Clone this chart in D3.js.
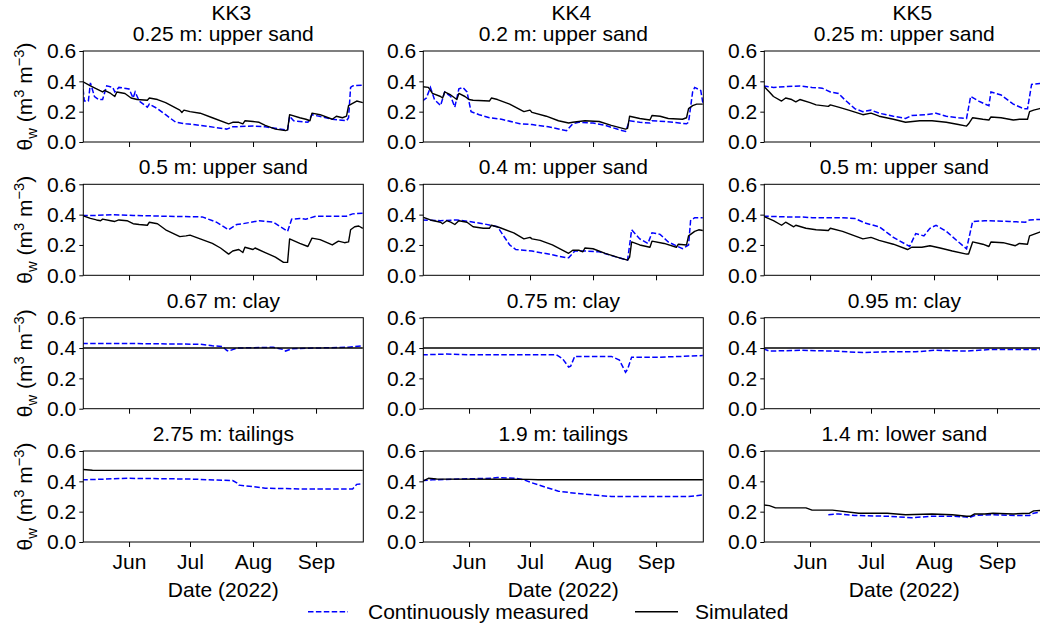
<!DOCTYPE html>
<html>
<head>
<meta charset="utf-8">
<script src="https://cdn.jsdelivr.net/npm/d3@7"></script>
<style>
  html, body { margin: 0; padding: 0; background: #fff; }
  svg { display: block; font-family: "Liberation Sans", Arial, sans-serif; }
</style>
</head>
<body>
<svg id="chart" width="1040" height="627"></svg>
<script>
// ---- labels ----
const sites = ["KK3", "KK4", "KK5"];
const depthLabels = [
  ["0.25 m: upper sand", "0.2 m: upper sand", "0.25 m: upper sand"],
  ["0.5 m: upper sand", "0.4 m: upper sand", "0.5 m: upper sand"],
  ["0.67 m: clay", "0.75 m: clay", "0.95 m: clay"],
  ["2.75 m: tailings", "1.9 m: tailings", "1.4 m: lower sand"]
];
const yTicks = [0.0, 0.2, 0.4, 0.6];
const monthTicks = ["2022-06-01", "2022-07-01", "2022-08-01", "2022-09-01"];
const seriesNames = ["Continuously measured", "Simulated"];
const xLabel = "Date (2022)";
const dateRange = ["2022-05-09T12:00", "2022-09-24T06:00"];

// ---- volumetric water content, [month-day, value] ----
const kk3_025_meas = [["05-09",0.40],["05-10",0.27],["05-12",0.27],["05-13",0.39],["05-15",0.30],["05-17",0.28],["05-19",0.28],["05-21",0.37],["05-24",0.36],["05-25",0.33],["05-27",0.36],["06-01",0.35],["06-03",0.29],["06-04",0.33],["06-06",0.27],["06-10",0.23],["06-11",0.25],["06-15",0.22],["06-19",0.18],["06-24",0.13],["06-29",0.12],["07-06",0.11],["07-19",0.085],["07-22",0.10],["08-01",0.105],["08-07",0.10],["08-17",0.08],["08-18",0.08],["08-19",0.17],["08-21",0.14],["08-28",0.13],["08-30",0.18],["09-09",0.15],["09-16",0.14],["09-17",0.16],["09-18",0.36],["09-19",0.37],["09-24",0.375]];
const kk3_025_sim = [["05-09",0.40],["05-13",0.37],["05-16",0.35],["05-19",0.33],["05-20",0.34],["05-23",0.32],["05-25",0.30],["05-26",0.33],["05-30",0.32],["06-02",0.29],["06-05",0.28],["06-10",0.275],["06-11",0.29],["06-15",0.28],["06-19",0.26],["06-26",0.21],["06-27",0.195],["06-28",0.21],["07-01",0.20],["07-06",0.19],["07-12",0.16],["07-20",0.12],["07-22",0.13],["07-25",0.13],["07-27",0.12],["07-28",0.14],["08-01",0.135],["08-04",0.13],["08-07",0.11],["08-12",0.085],["08-17",0.075],["08-18",0.08],["08-19",0.18],["08-24",0.16],["08-27",0.15],["08-29",0.14],["08-30",0.19],["09-03",0.18],["09-09",0.15],["09-11",0.17],["09-14",0.16],["09-16",0.17],["09-17",0.24],["09-21",0.27],["09-24",0.26]];

const kk4_020_meas = [["05-09",0.27],["05-11",0.29],["05-13",0.36],["05-15",0.28],["05-18",0.24],["05-20",0.33],["05-23",0.30],["05-25",0.23],["05-27",0.35],["05-29",0.36],["05-31",0.33],["06-02",0.20],["06-06",0.18],["06-11",0.16],["06-17",0.15],["06-26",0.12],["07-02",0.115],["07-10",0.10],["07-19",0.075],["07-22",0.12],["07-25",0.13],["08-01",0.125],["08-07",0.11],["08-14",0.08],["08-17",0.07],["08-19",0.14],["08-24",0.13],["08-29",0.125],["08-30",0.14],["09-06",0.135],["09-16",0.12],["09-17",0.13],["09-19",0.33],["09-20",0.36],["09-23",0.34],["09-24",0.26]];
const kk4_020_sim = [["05-09",0.365],["05-12",0.36],["05-14",0.32],["05-18",0.30],["05-19",0.29],["05-20",0.33],["05-23",0.31],["05-24",0.30],["05-26",0.28],["05-27",0.32],["05-30",0.30],["06-01",0.28],["06-03",0.275],["06-11",0.27],["06-12",0.29],["06-15",0.28],["06-21",0.25],["06-28",0.20],["07-01",0.21],["07-02",0.195],["07-09",0.17],["07-15",0.14],["07-20",0.125],["07-22",0.13],["07-28",0.14],["08-04",0.135],["08-10",0.11],["08-17",0.085],["08-18",0.09],["08-19",0.17],["08-24",0.155],["08-29",0.145],["08-30",0.175],["09-03",0.17],["09-07",0.155],["09-14",0.15],["09-16",0.16],["09-17",0.22],["09-19",0.24],["09-21",0.25],["09-24",0.25]];

const kk5_025_meas = [["05-09",0.37],["05-14",0.36],["05-20",0.365],["05-27",0.37],["06-02",0.36],["06-07",0.355],["06-11",0.33],["06-15",0.32],["06-18",0.28],["06-23",0.22],["06-27",0.20],["07-01",0.21],["07-05",0.19],["07-12",0.17],["07-18",0.155],["07-21",0.175],["07-28",0.18],["08-02",0.19],["08-07",0.17],["08-13",0.16],["08-17",0.155],["08-19",0.30],["08-23",0.27],["08-26",0.25],["08-28",0.24],["08-29",0.33],["09-03",0.31],["09-09",0.25],["09-14",0.22],["09-16",0.22],["09-18",0.38],["09-22",0.385],["09-24",0.385]];
const kk5_025_sim = [["05-09",0.37],["05-12",0.33],["05-14",0.30],["05-18",0.27],["05-20",0.29],["05-23",0.28],["05-25",0.265],["05-27",0.28],["06-01",0.26],["06-04",0.245],["06-10",0.235],["06-11",0.245],["06-15",0.23],["06-20",0.21],["06-27",0.18],["07-01",0.19],["07-05",0.17],["07-12",0.15],["07-18",0.13],["07-25",0.14],["07-31",0.14],["08-07",0.13],["08-13",0.115],["08-17",0.105],["08-18",0.12],["08-20",0.16],["08-25",0.15],["08-28",0.145],["08-29",0.165],["09-03",0.16],["09-09",0.145],["09-12",0.15],["09-16",0.15],["09-17",0.20],["09-19",0.21],["09-22",0.22],["09-24",0.225]];

const kk3_050_meas = [["05-09",0.395],["05-16",0.395],["05-24",0.40],["06-03",0.395],["06-17",0.39],["07-07",0.385],["07-14",0.35],["07-20",0.30],["07-24",0.335],["07-27",0.34],["08-04",0.36],["08-11",0.35],["08-18",0.29],["08-20",0.37],["08-24",0.375],["08-27",0.37],["09-01",0.39],["09-16",0.39],["09-19",0.405],["09-24",0.41]];
const kk3_050_sim = [["05-09",0.395],["05-13",0.375],["05-16",0.365],["05-18",0.36],["05-19",0.37],["05-23",0.36],["05-25",0.355],["05-27",0.365],["05-31",0.36],["06-03",0.34],["06-06",0.335],["06-10",0.33],["06-11",0.35],["06-15",0.34],["06-19",0.30],["06-26",0.255],["06-29",0.26],["07-01",0.265],["07-06",0.24],["07-12",0.21],["07-16",0.18],["07-20",0.14],["07-22",0.16],["07-25",0.17],["07-27",0.15],["07-28",0.185],["08-01",0.17],["08-02",0.18],["08-07",0.15],["08-12",0.12],["08-16",0.085],["08-18",0.085],["08-19",0.24],["08-24",0.21],["08-28",0.19],["08-30",0.245],["09-03",0.235],["09-09",0.20],["09-12",0.225],["09-15",0.215],["09-17",0.22],["09-18",0.30],["09-20",0.32],["09-22",0.325],["09-24",0.31]];

const kk4_040_meas = [["05-09",0.365],["05-18",0.36],["05-26",0.365],["06-01",0.355],["06-08",0.34],["06-15",0.32],["06-17",0.28],["06-21",0.20],["06-24",0.17],["07-02",0.16],["07-12",0.135],["07-19",0.115],["07-20",0.115],["07-23",0.16],["07-28",0.16],["08-04",0.155],["08-10",0.13],["08-18",0.10],["08-20",0.30],["08-24",0.24],["08-28",0.21],["08-30",0.28],["09-03",0.27],["09-07",0.22],["09-14",0.175],["09-17",0.20],["09-18",0.36],["09-20",0.38],["09-24",0.38]];
const kk4_040_sim = [["05-09",0.385],["05-13",0.365],["05-18",0.35],["05-19",0.34],["05-21",0.36],["05-23",0.35],["05-25",0.335],["05-27",0.36],["05-31",0.35],["06-03",0.32],["06-08",0.31],["06-11",0.31],["06-12",0.33],["06-16",0.315],["06-23",0.28],["06-28",0.24],["07-01",0.25],["07-02",0.24],["07-06",0.23],["07-12",0.20],["07-20",0.145],["07-22",0.165],["07-25",0.165],["07-27",0.155],["07-28",0.18],["08-01",0.175],["08-07",0.145],["08-14",0.115],["08-18",0.10],["08-19",0.12],["08-20",0.22],["08-24",0.20],["08-29",0.185],["08-30",0.225],["09-05",0.21],["09-11",0.185],["09-12",0.205],["09-16",0.20],["09-17",0.26],["09-20",0.29],["09-22",0.30],["09-24",0.295]];

const kk5_050_meas = [["05-09",0.39],["05-20",0.385],["05-27",0.385],["06-02",0.38],["06-15",0.38],["06-23",0.375],["06-28",0.345],["07-05",0.32],["07-12",0.25],["07-20",0.19],["07-23",0.275],["07-27",0.26],["07-30",0.31],["08-02",0.33],["08-07",0.29],["08-13",0.22],["08-17",0.175],["08-20",0.355],["08-26",0.36],["09-07",0.355],["09-15",0.35],["09-17",0.365],["09-24",0.37]];
const kk5_050_sim = [["05-09",0.39],["05-14",0.36],["05-18",0.33],["05-20",0.35],["05-24",0.32],["05-25",0.33],["05-30",0.31],["06-04",0.30],["06-10",0.295],["06-11",0.31],["06-17",0.29],["06-23",0.26],["06-27",0.24],["07-01",0.25],["07-05",0.23],["07-12",0.205],["07-19",0.17],["07-21",0.185],["07-26",0.185],["07-30",0.195],["08-04",0.18],["08-10",0.16],["08-17",0.14],["08-18",0.14],["08-20",0.22],["08-25",0.205],["08-28",0.19],["08-29",0.22],["09-04",0.215],["09-10",0.195],["09-12",0.21],["09-16",0.205],["09-17",0.26],["09-19",0.27],["09-22",0.285],["09-24",0.29]];

const kk3_067_meas = [["05-09",0.43],["06-01",0.43],["07-06",0.425],["07-12",0.415],["07-17",0.41],["07-19",0.385],["07-20",0.38],["07-24",0.40],["08-11",0.405],["08-16",0.39],["08-17",0.38],["08-20",0.395],["09-01",0.40],["09-17",0.405],["09-24",0.415]];
const kk3_067_sim = [["05-09",0.40],["09-24",0.40]];

const kk4_075_meas = [["05-09",0.355],["05-21",0.36],["06-01",0.355],["07-14",0.355],["07-17",0.33],["07-20",0.275],["07-21",0.28],["07-23",0.345],["08-10",0.345],["08-14",0.32],["08-17",0.24],["08-18",0.26],["08-20",0.34],["09-03",0.34],["09-24",0.35]];
const kk4_075_sim = [["05-09",0.40],["09-24",0.40]];

const kk5_095_meas = [["05-09",0.395],["05-12",0.38],["05-27",0.385],["06-13",0.38],["06-27",0.37],["07-09",0.375],["07-23",0.375],["08-01",0.385],["08-17",0.38],["08-28",0.39],["09-24",0.39]];
const kk5_095_sim = [["05-09",0.40],["09-24",0.40]];

const kk3_275_meas = [["05-09",0.41],["06-01",0.42],["07-01",0.415],["07-22",0.405],["07-24",0.39],["07-25",0.375],["08-01",0.365],["08-07",0.355],["08-24",0.35],["09-19",0.35],["09-21",0.38],["09-24",0.385]];
const kk3_275_sim = [["05-09",0.478],["05-14",0.473],["09-24",0.472]];

const kk4_190_meas = [["05-09",0.405],["05-14",0.41],["05-27",0.415],["06-12",0.42],["06-15",0.425],["06-24",0.42],["06-28",0.41],["07-02",0.39],["07-09",0.36],["07-15",0.335],["07-24",0.32],["08-01",0.31],["08-10",0.30],["09-03",0.30],["09-17",0.30],["09-24",0.31]];
const kk4_190_sim = [["05-09",0.40],["05-12",0.42],["05-16",0.415],["06-30",0.413],["07-05",0.41],["09-24",0.41]];

const kk5_140_meas = [["06-10",0.18],["06-15",0.185],["06-23",0.175],["07-09",0.17],["07-21",0.16],["07-31",0.17],["08-10",0.17],["08-17",0.165],["08-18",0.16],["08-21",0.175],["08-30",0.18],["09-10",0.175],["09-17",0.175],["09-19",0.19],["09-24",0.20]];
const kk5_140_sim = [["05-09",0.245],["05-12",0.24],["05-15",0.225],["05-27",0.225],["05-30",0.225],["06-02",0.21],["06-12",0.21],["06-25",0.19],["07-09",0.19],["07-18",0.18],["07-31",0.185],["08-10",0.18],["08-17",0.17],["08-19",0.17],["08-21",0.185],["08-26",0.185],["08-30",0.19],["09-09",0.185],["09-17",0.19],["09-19",0.205],["09-24",0.21]];

// grid of panels: rows = sensor level, columns = site
const panelData = [
  [[kk3_025_meas, kk3_025_sim], [kk4_020_meas, kk4_020_sim], [kk5_025_meas, kk5_025_sim]],
  [[kk3_050_meas, kk3_050_sim], [kk4_040_meas, kk4_040_sim], [kk5_050_meas, kk5_050_sim]],
  [[kk3_067_meas, kk3_067_sim], [kk4_075_meas, kk4_075_sim], [kk5_095_meas, kk5_095_sim]],
  [[kk3_275_meas, kk3_275_sim], [kk4_190_meas, kk4_190_sim], [kk5_140_meas, kk5_140_sim]]
];

// ---- layout ----
const colLeft = [83.3, 423.3, 764.3];
const rowTop = [51, 184.3, 317.7, 451];
const plotW = 280, plotH = 91;
const fontPx = 21;
const measColor = "#0000ff", simColor = "#000000";
const dashPattern = "5.5,2.4";

const svg = d3.select("#chart");
const parseDate = d3.timeParse("%Y-%m-%d");
const parseDT = d3.timeParse("%Y-%m-%dT%H:%M");
const toPoints = arr => arr.map(([md, v]) => ({ date: parseDate("2022-" + md), v }));

const x = d3.scaleTime().domain(dateRange.map(parseDT)).range([0, plotW]);
const y = d3.scaleLinear().domain([0, 0.6]).range([plotH, 0]);
const line = d3.line().x(d => x(d.date)).y(d => y(d.v));

svg.append("defs").append("clipPath").attr("id", "plot-clip")
  .append("rect").attr("width", plotW).attr("height", plotH);

panelData.forEach((row, r) => {
  row.forEach(([meas, sim], c) => {
    const g = svg.append("g").attr("transform", `translate(${colLeft[c]},${rowTop[r]})`);

    const lines = g.append("g").attr("clip-path", "url(#plot-clip)");
    lines.append("path").datum(toPoints(meas))
      .attr("d", line).attr("fill", "none")
      .attr("stroke", measColor).attr("stroke-width", 1.5)
      .attr("stroke-dasharray", dashPattern);
    lines.append("path").datum(toPoints(sim))
      .attr("d", line).attr("fill", "none")
      .attr("stroke", simColor).attr("stroke-width", 1.4)
      .attr("stroke-linejoin", "round");

    // x axis
    const xa = g.append("g").attr("transform", `translate(0,${plotH})`)
      .call(d3.axisBottom(x)
        .tickValues(monthTicks.map(parseDate))
        .tickSize(5).tickPadding(7)
        .tickFormat(r === 3 ? d3.timeFormat("%b") : () => ""));
    // y axis
    const ya = g.append("g")
      .call(d3.axisLeft(y).tickValues(yTicks)
        .tickSize(4).tickPadding(3)
        .tickFormat(d3.format(".1f")));
    [xa, ya].forEach(a => {
      a.select(".domain").remove();
      a.selectAll("line").attr("stroke", "#000").attr("stroke-width", 1);
      a.selectAll("text").attr("fill", "#000")
        .style("font-size", fontPx + "px")
        .style("font-family", "'Liberation Sans', Arial, sans-serif");
    });

    // frame
    g.append("rect").attr("width", plotW).attr("height", plotH)
      .attr("fill", "none").attr("stroke", "#000").attr("stroke-width", 1);

    // panel title
    g.append("text").attr("x", plotW / 2).attr("y", -10)
      .attr("text-anchor", "middle").style("font-size", fontPx + "px")
      .text(depthLabels[r][c]);

    if (r === 0) {
      g.append("text").attr("x", plotW / 2 + 8).attr("y", -31)
        .attr("text-anchor", "middle").style("font-size", fontPx + "px")
        .text(sites[c]);
    }
    if (r === 3) {
      g.append("text").attr("x", plotW / 2).attr("y", plotH + 55)
        .attr("text-anchor", "middle").style("font-size", fontPx + "px")
        .text(xLabel);
    }
    if (c === 0) {
      const sub = fontPx * 0.7;
      const t = svg.append("text")
        .attr("transform", `translate(32,${rowTop[r] + plotH / 2}) rotate(-90)`)
        .attr("text-anchor", "middle").style("font-size", fontPx + "px");
      t.append("tspan").text("θ");
      t.append("tspan").attr("dy", 5).style("font-size", sub + "px").text("w");
      t.append("tspan").attr("dy", -5).text(" (m");
      t.append("tspan").attr("dy", -8).style("font-size", sub + "px").text("3");
      t.append("tspan").attr("dy", 8).text(" m");
      t.append("tspan").attr("dy", -8).style("font-size", sub + "px").text("−3");
      t.append("tspan").attr("dy", 8).text(")");
    }
  });
});

// legend
const legend = svg.append("g").attr("transform", "translate(0,611.7)");
const legendItems = [
  { name: seriesNames[0], x0: 308, x1: 348, tx: 368, color: measColor, dash: dashPattern },
  { name: seriesNames[1], x0: 635, x1: 678, tx: 695, color: simColor, dash: null }
];
legendItems.forEach(it => {
  legend.append("line").attr("x1", it.x0).attr("x2", it.x1)
    .attr("stroke", it.color).attr("stroke-width", 1.5)
    .attr("stroke-dasharray", it.dash);
  legend.append("text").attr("x", it.tx).attr("y", 7)
    .style("font-size", fontPx + "px").text(it.name);
});
</script>
</body>
</html>
